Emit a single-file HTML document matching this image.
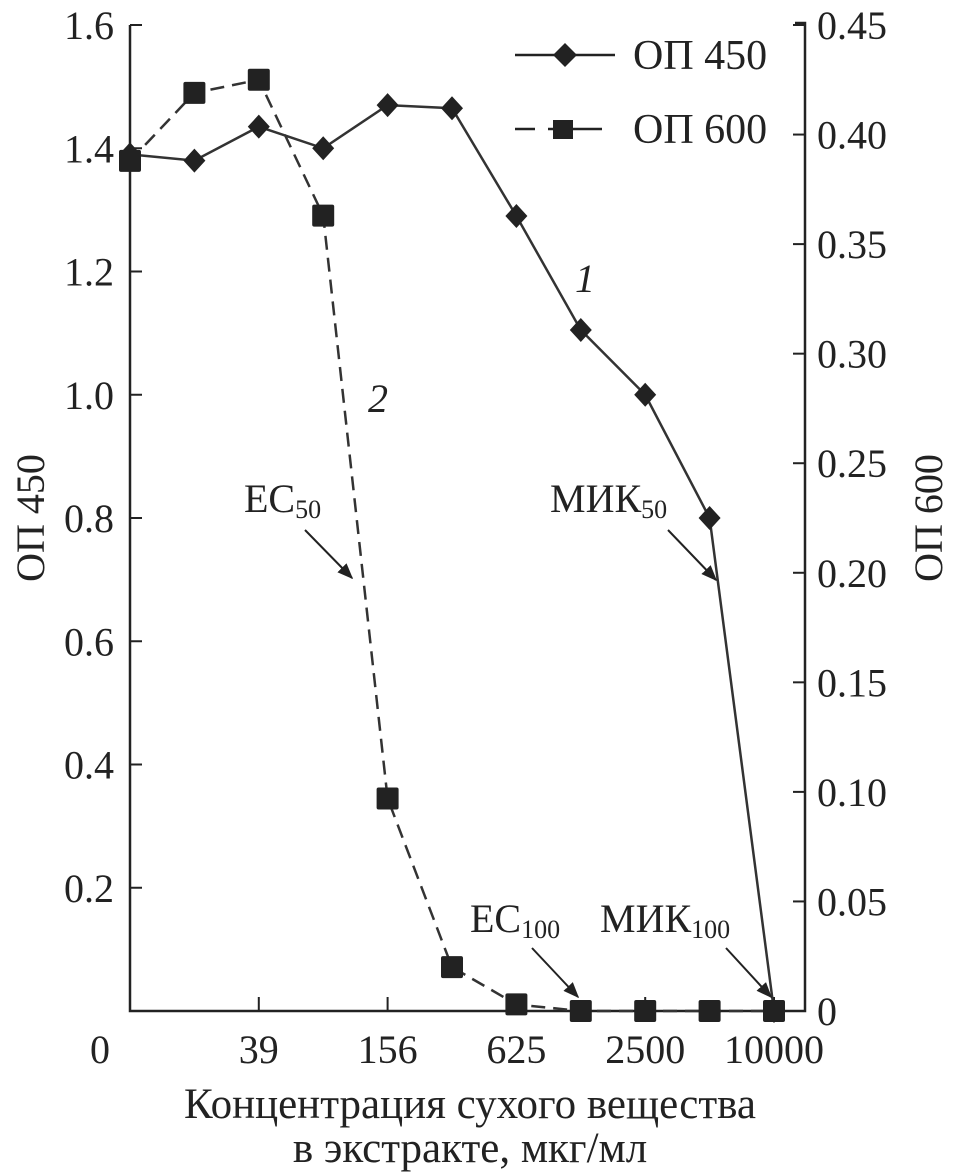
<!DOCTYPE html>
<html><head><meta charset="utf-8">
<style>
html,body{margin:0;padding:0;background:#fff;}
svg{display:block;font-family:"Liberation Serif",serif;}
</style></head>
<body>
<svg id="chart" width="955" height="1172" viewBox="0 0 955 1172">
<defs>
<marker id="arr" viewBox="0 0 10 10" refX="9" refY="5" markerWidth="8" markerHeight="8" orient="auto"><path d="M0,1 L10,5 L0,9 Z" fill="#222"/></marker>
</defs>
<g id="axes"></g>
<g id="series"></g>
<g>
<line x1="515" y1="55" x2="615" y2="55" stroke="#222" stroke-width="2.5"/>
<path d="M565,43 L577,55 L565,67 L553,55 Z" fill="#222"/>
<text x="633" y="69" font-size="42" fill="#222">ОП 450</text>
<line x1="515" y1="129" x2="535" y2="129" stroke="#222" stroke-width="2.5"/>
<line x1="548" y1="129" x2="602" y2="129" stroke="#222" stroke-width="2.5"/>
<rect x="553" y="120" width="20" height="19" fill="#222"/>
<text x="633" y="143" font-size="42" fill="#222">ОП 600</text>
</g>
<text x="575" y="292" font-size="40" font-style="italic" fill="#222">1</text>
<text x="368" y="412" font-size="40" font-style="italic" fill="#222">2</text>
<g fill="#222" font-size="40">
<text x="244" y="512">EC<tspan font-size="26" dy="6">50</tspan></text>
<line x1="305" y1="530" x2="352" y2="578" stroke="#222" stroke-width="2" marker-end="url(#arr)"/>
<text x="550" y="512">МИК<tspan font-size="26" dy="6">50</tspan></text>
<line x1="668" y1="530" x2="716" y2="580" stroke="#222" stroke-width="2" marker-end="url(#arr)"/>
<text x="470" y="932">EC<tspan font-size="26" dy="6">100</tspan></text>
<line x1="532" y1="948" x2="578" y2="997" stroke="#222" stroke-width="2" marker-end="url(#arr)"/>
<text x="600" y="932">МИК<tspan font-size="26" dy="6">100</tspan></text>
<line x1="726" y1="948" x2="771" y2="997" stroke="#222" stroke-width="2" marker-end="url(#arr)"/>
</g>
<text x="470" y="1118" font-size="43" text-anchor="middle" fill="#222">Концентрация сухого вещества</text>
<text x="470" y="1162" font-size="43" text-anchor="middle" fill="#222">в экстракте, мкг/мл</text>
<text transform="translate(44,518) rotate(-90)" font-size="40" text-anchor="middle" fill="#222">ОП 450</text>
<text transform="translate(942,518) rotate(-90)" font-size="40" text-anchor="middle" fill="#222">ОП 600</text>
</svg>
<script>
const categories=["0","19.5","39","78","156","312","625","1250","2500","5000","10000"];
const od450=[1.39,1.38,1.435,1.40,1.47,1.465,1.29,1.105,1.0,0.80,0.0];
const od600=[0.388,0.419,0.425,0.363,0.097,0.020,0.003,0,0,0,0];
const xTickLabels=["0","39","156","625","2500","10000"];
const xTickIdx=[0,2,4,6,8,10];
const leftTicks=[0.2,0.4,0.6,0.8,1.0,1.2,1.4,1.6];
const rightTicks=[0,0.05,0.10,0.15,0.20,0.25,0.30,0.35,0.40,0.45];

const NS="http://www.w3.org/2000/svg";
const X0=130,X1=805,Y0=1011,Y1=25;
const xPos=i=>130+i*64.4;
const yL=v=>Y0-v/1.6*(Y0-Y1);
const yR=v=>Y0-v/0.45*(Y0-Y1);
function mk(tag,attrs,parent,text){const e=document.createElementNS(NS,tag);for(const k in attrs)e.setAttribute(k,attrs[k]);if(text!==undefined)e.textContent=text;parent.appendChild(e);return e;}
const ax=document.getElementById('axes'),se=document.getElementById('series');
let e;
e=mk('path',{d:`M${X0},${Y1} L${X0},${Y0} L${X1},${Y0} L${X1},${Y1-2} L${X1-10},${Y1-2}`,fill:'none',stroke:'#222','stroke-width':2.5},ax);


leftTicks.forEach(v=>{const y=yL(v);
 mk('line',{x1:X0,y1:y,x2:X0+12,y2:y,stroke:'#222','stroke-width':2},ax);
 e=mk('text',{x:X0-16,y:y+14,'font-size':40,'text-anchor':'end',fill:'#222'},ax,v.toFixed(1));
 
 });
rightTicks.forEach(v=>{const y=yR(v);
 mk('line',{x1:X1,y1:y,x2:X1-12,y2:y,stroke:'#222','stroke-width':2},ax);
 e=mk('text',{x:X1+12,y:y+14,'font-size':40,'text-anchor':'start',fill:'#222'},ax,v===0?'0':v.toFixed(2));
 
 });
xTickIdx.forEach((idx,k)=>{const x=xPos(idx);
 if(idx>0)mk('line',{x1:x,y1:Y0,x2:x,y2:Y0-14,stroke:'#222','stroke-width':2},ax);
 e=mk('text',{x:idx===0?100:x,y:1063,'font-size':40,'text-anchor':'middle',fill:'#222'},ax,xTickLabels[k]);
 
 });
e=mk('polyline',{points:od450.map((v,i)=>xPos(i)+','+yL(v)).join(' '),fill:'none',stroke:'#333','stroke-width':2.5},se);


e=mk('polyline',{points:od600.map((v,i)=>xPos(i)+','+yR(v)).join(' '),fill:'none',stroke:'#333','stroke-width':2.5,'stroke-dasharray':'14,8'},se);


od450.forEach((v,i)=>{const x=xPos(i),y=yL(v);
 e=mk('path',{d:`M${x},${y-12} L${x+11},${y} L${x},${y+12} L${x-11},${y} Z`,fill:'#222'},se);
 
 });
od600.forEach((v,i)=>{const x=xPos(i),y=yR(v);
 e=mk('rect',{x:x-11,y:y-11,width:22,height:22,rx:2,fill:'#222'},se);
 
 });
</script>
</body></html>
